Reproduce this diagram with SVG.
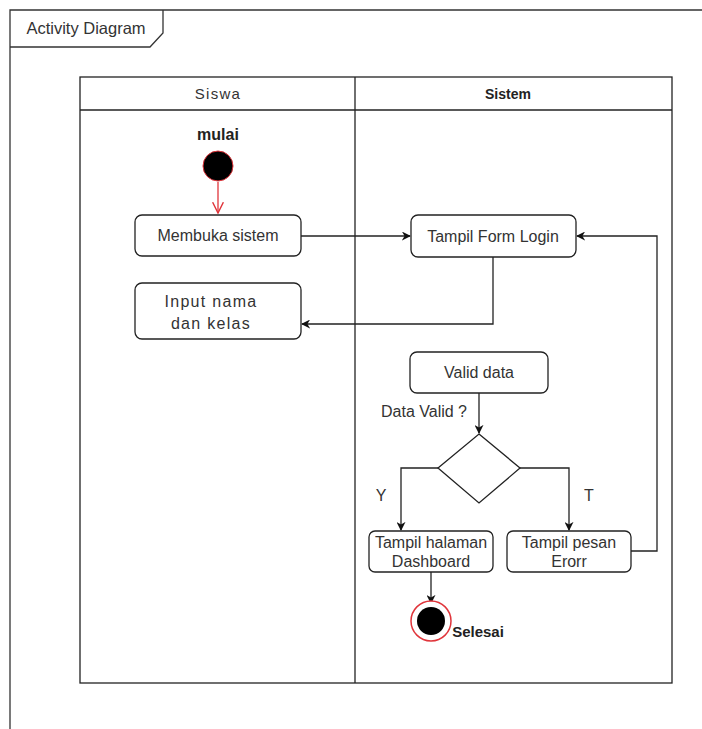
<svg xmlns="http://www.w3.org/2000/svg" width="702" height="729" viewBox="0 0 702 729">
  <defs>
    <style>
      .frame { fill: none; stroke: #333; stroke-width: 1.3; }
      .lane { fill: none; stroke: #222; stroke-width: 1.3; }
      .act { fill: #fff; stroke: #222; stroke-width: 1.3; }
      .edge { fill: none; stroke: #222; stroke-width: 1.3; }
      .t { font-family: "Liberation Sans", Arial, sans-serif; font-size: 16px; fill: #333; text-anchor: middle; }
      .b { font-weight: bold; fill: #222; }
      .sp { letter-spacing: 1.3px; }
    </style>
    <marker id="arr" viewBox="0 0 10 10" refX="9" refY="5" markerWidth="9" markerHeight="9" markerUnits="userSpaceOnUse" orient="auto">
      <path d="M0,0 L10,5 L0,10 L3,5 Z" fill="#111"/>
    </marker>
    <marker id="open" viewBox="0 0 10 10" refX="9" refY="5" markerWidth="12" markerHeight="12" markerUnits="userSpaceOnUse" orient="auto">
      <path d="M0,0.5 L9,5 L0,9.5" fill="none" stroke="#e0353b" stroke-width="1.2"/>
    </marker>
  </defs>
  <rect width="702" height="729" fill="#fff"/>

  <!-- outer frame with title tab -->
  <g id="frame">
    <path class="frame" d="M10,729 V10 H702"/>
    <path class="frame" d="M10,47 H150 L163,33 V10"/>
    <text class="t" x="86" y="34" style="font-size:16.5px">Activity Diagram</text>
  </g>

  <!-- swimlanes -->
  <g id="lanes">
    <rect class="lane" x="80" y="77" width="592" height="606"/>
    <line class="lane" x1="80" y1="110" x2="672" y2="110"/>
    <line class="lane" x1="355" y1="77" x2="355" y2="683"/>
    <text class="t sp" x="218" y="99" style="font-size:15px">Siswa</text>
    <text class="t b" x="508" y="99" style="font-size:14px">Sistem</text>
  </g>

  <!-- connectors -->
  <g id="connectors">
    <line x1="218" y1="182" x2="218" y2="213" fill="none" stroke="#e0353b" stroke-width="1.3" marker-end="url(#open)"/>
    <line class="edge" x1="301" y1="236" x2="410" y2="236" marker-end="url(#arr)"/>
    <polyline class="edge" points="493,257 493,324 302,324" marker-end="url(#arr)"/>
    <line class="edge" x1="479" y1="393" x2="479" y2="433" marker-end="url(#arr)"/>
    <polyline class="edge" points="438,468 401,468 401,530" marker-end="url(#arr)"/>
    <polyline class="edge" points="520,468 569,468 569,530" marker-end="url(#arr)"/>
    <polyline class="edge" points="631,551 657,551 657,236 577,236" marker-end="url(#arr)"/>
    <line class="edge" x1="431" y1="572" x2="431" y2="603" marker-end="url(#arr)"/>
    <text class="t" x="424" y="417">Data Valid ?</text>
    <text class="t" x="381" y="501">Y</text>
    <text class="t" x="589" y="501">T</text>
  </g>

  <!-- nodes -->
  <g id="start">
    <text class="t b" x="218" y="140">mulai</text>
    <circle cx="218" cy="166" r="15" fill="#000" stroke="#e0353b" stroke-width="1"/>
  </g>
  <g id="membuka-sistem">
    <rect class="act" x="135" y="215" width="166" height="41" rx="7"/>
    <text class="t" x="218" y="241">Membuka sistem</text>
  </g>
  <g id="input-nama">
    <rect class="act" x="135" y="283" width="166" height="56" rx="7"/>
    <text class="t sp" x="211" y="307">Input nama</text>
    <text class="t sp" x="211" y="329">dan kelas</text>
  </g>
  <g id="tampil-form-login">
    <rect class="act" x="411" y="215" width="165" height="42" rx="7"/>
    <text class="t" x="493" y="242">Tampil Form Login</text>
  </g>
  <g id="valid-data">
    <rect class="act" x="410" y="352" width="138" height="41" rx="7"/>
    <text class="t" x="479" y="378">Valid data</text>
  </g>
  <g id="decision">
    <polygon class="act" points="479,434 520,468 479,503 438,468"/>
  </g>
  <g id="tampil-dashboard">
    <rect class="act" x="369" y="531" width="124" height="41" rx="6"/>
    <text class="t" x="431" y="548">Tampil halaman</text>
    <text class="t" x="431" y="567">Dashboard</text>
  </g>
  <g id="tampil-error">
    <rect class="act" x="507" y="531" width="124" height="41" rx="6"/>
    <text class="t" x="569" y="548">Tampil pesan</text>
    <text class="t" x="569" y="567">Erorr</text>
  </g>
  <g id="end">
    <circle cx="431" cy="621" r="20" fill="#fff" stroke="#e0353b" stroke-width="1.5"/>
    <circle cx="431" cy="621" r="14" fill="#000"/>
    <text class="t b" x="478" y="637" style="font-size:15px">Selesai</text>
  </g>
</svg>
